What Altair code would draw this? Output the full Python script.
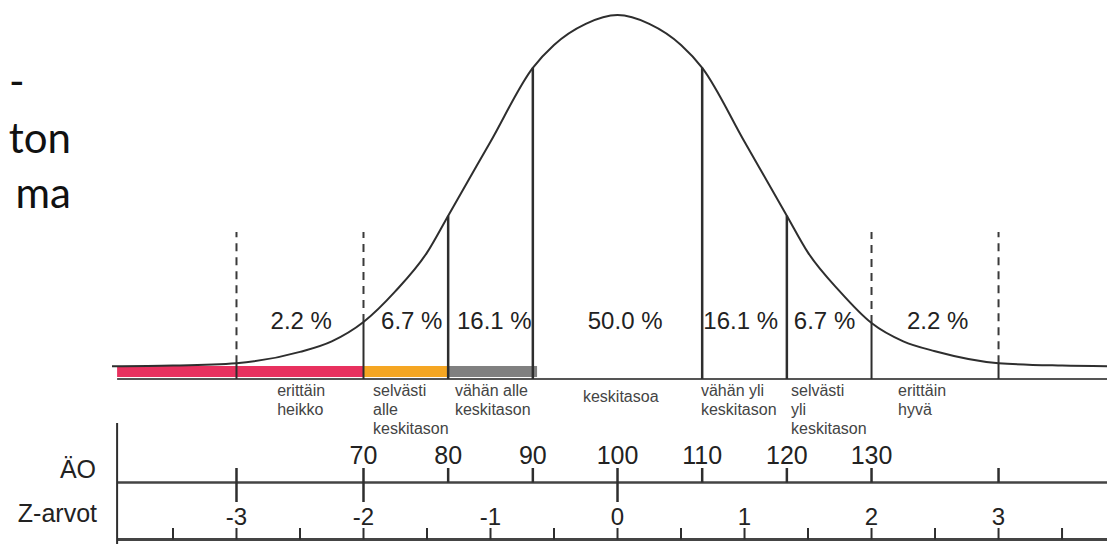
import altair as alt
import pandas as pd

# ---- data ----
# bell curve: z-value and height (percent of peak)
curve_z = [-3.98, -3.5, -3.0, -2.5, -2.25, -2.0, -1.75, -1.5, -1.333, -1.0, -0.667, -0.5, -0.25, 0.0,
           0.25, 0.5, 0.667, 1.0, 1.333, 1.5, 1.75, 2.0, 2.25, 2.5, 3.0, 3.5, 3.86]
curve_h = [0.2, 0.4, 1.1, 4.3, 7.3, 12.8, 21.5, 32.5, 43.0, 64.0, 85.0, 91.5, 97.5, 100.0,
           97.5, 91.5, 85.0, 64.0, 43.0, 32.5, 21.5, 12.5, 7.3, 4.5, 1.1, 0.4, 0.2]

# solid dividers (IQ) and curve height where they stop
solid_iq = [80, 90, 110, 120]
solid_h = [43.0, 85.0, 85.0, 43.0]

# dashed dividers (z) and curve height where dash ends
dashed_z = [-3, -2, 2, 3]
dashed_h = [1.1, 12.8, 12.5, 1.1]

# coloured bands (IQ start, IQ end, colour)
band_start = [40.9, 70, 80]
band_end = [70, 80, 90.5]
band_color = ["#E8315F", "#F5A623", "#808080"]

# percentage labels
pct_text = ["2.2 %", "6.7 %", "16.1 %", "50.0 %", "16.1 %", "6.7 %", "2.2 %"]
pct_z = [-2.49, -1.62, -0.97, 0.06, 0.97, 1.63, 2.52]

# category labels (left edge in z)
cat_text = ["erittäin\nheikko", "selvästi\nalle\nkeskitason", "vähän alle\nkeskitason",
            "vähän yli\nkeskitason", "selvästi\nyli\nkeskitason", "erittäin\nhyvä"]
cat_z = [-2.68, -1.925, -1.28, 0.657, 1.366, 2.209]
mid_text = ["keskitasoa"]
mid_z = [-0.272]

# IQ axis
iq_ticks_short = [80, 90, 110, 120, 130, 145]
iq_ticks_long = [55, 70, 100]
iq_labels = [70, 80, 90, 100, 110, 120, 130]

# Z axis
z_ticks = [-3.5, -3.0, -2.5, -2.0, -1.5, -1.0, -0.5, 0.0, 0.5, 1.0, 1.5, 2.0, 2.5, 3.0, 3.5]
z_labels = ["-3", "-2", "-1", "0", "1", "2", "3"]
z_label_vals = [-3, -2, -1, 0, 1, 2, 3]

axis_start_z = -3.94
axis_end_z = 3.86

title_lines = ["-", "ton", "ma"]

# ---- chart ----
W, H = 1099, 536
FONT = "Liberation Sans"
xs = alt.Scale(domain=[-4.799, 3.854], nice=False, zero=False)
# curve zero at plot y 359, peak (100) at plot y 7
ys = alt.Scale(domain=[-50.28, 101.99], nice=False, zero=False)


def X(field):
    return alt.X(field, type="quantitative", scale=xs, axis=None)


def Y(field):
    return alt.Y(field, type="quantitative", scale=ys, axis=None)


def iq_to_z(df, col):
    return df.assign(z=(df[col] - 100) / 15)


curve_df = pd.DataFrame({"z": curve_z, "h": curve_h})
solid_df = iq_to_z(pd.DataFrame({"iq": solid_iq, "h": solid_h}), "iq")
dashed_df = pd.DataFrame({"z": dashed_z, "h": dashed_h})
band_df = pd.DataFrame({"s": band_start, "e": band_end, "c": band_color})
band_df["zs"] = (band_df["s"] - 100) / 15
band_df["ze"] = (band_df["e"] - 100) / 15
pct_df = pd.DataFrame({"z": pct_z, "t": pct_text})
cat_df = pd.DataFrame({"z": cat_z, "t": cat_text})
mid_df = pd.DataFrame({"z": mid_z, "t": mid_text})
axis_df = pd.DataFrame({"a": [axis_start_z], "b": [axis_end_z]})
iqs_df = iq_to_z(pd.DataFrame({"iq": iq_ticks_short}), "iq")
iql_df = iq_to_z(pd.DataFrame({"iq": iq_ticks_long}), "iq")
iqlab_df = iq_to_z(pd.DataFrame({"iq": iq_labels}), "iq")
iqlab_df["t"] = iqlab_df["iq"].astype(str)
zt_df = pd.DataFrame({"z": z_ticks})
zl_df = pd.DataFrame({"z": z_label_vals, "t": z_labels})

line_col = "#2e2e2e"

bands = alt.Chart(band_df).mark_rect().encode(
    x=X("zs"), x2="ze", y=alt.value(358), y2=alt.value(369),
    color=alt.Color("c:N", scale=None))

baseline = alt.Chart(axis_df).mark_rule(color="#555555", strokeWidth=2).encode(
    x=X("a"), x2="b", y=alt.value(371))

curve = alt.Chart(curve_df).mark_line(color=line_col, strokeWidth=2, interpolate="monotone").encode(
    x=X("z"), y=Y("h"))

solid = alt.Chart(solid_df).mark_rule(color=line_col, strokeWidth=2.5).encode(
    x=X("z"), y=Y("h"), y2=alt.value(371))

dashed_top = alt.Chart(dashed_df).mark_rule(color="#3a3a3a", strokeWidth=2, strokeDash=[8, 6]).encode(
    x=X("z"), y=Y("h"), y2=alt.value(224))

dashed_bottom = alt.Chart(dashed_df).mark_rule(color=line_col, strokeWidth=2).encode(
    x=X("z"), y=Y("h"), y2=alt.value(371))

pct = alt.Chart(pct_df).mark_text(font=FONT, fontSize=24, color="#222222", baseline="middle").encode(
    x=X("z"), y=alt.value(314), text="t")

cats = alt.Chart(cat_df).mark_text(font=FONT, fontSize=16, color="#444444", align="left",
                                    baseline="top", lineBreak="\n", lineHeight=19).encode(
    x=X("z"), y=alt.value(375), text="t")

mid = alt.Chart(mid_df).mark_text(font=FONT, fontSize=16, color="#444444", align="left",
                                   baseline="top").encode(
    x=X("z"), y=alt.value(381), text="t")

iq_axis = alt.Chart(axis_df).mark_rule(color="#444444", strokeWidth=2.5).encode(
    x=X("a"), x2="b", y=alt.value(474.5))

z_axis = alt.Chart(axis_df).mark_rule(color="#444444", strokeWidth=3).encode(
    x=X("a"), x2="b", y=alt.value(531.5))

left_axis = alt.Chart(axis_df).mark_rule(color=line_col, strokeWidth=2).encode(
    x=X("a"), y=alt.value(415), y2=alt.value(536))

iq_short = alt.Chart(iqs_df).mark_rule(color=line_col, strokeWidth=2.5).encode(
    x=X("z"), y=alt.value(460), y2=alt.value(474.5))

iq_long = alt.Chart(iql_df).mark_rule(color=line_col, strokeWidth=2.5).encode(
    x=X("z"), y=alt.value(460), y2=alt.value(494))

iq_lab = alt.Chart(iqlab_df).mark_text(font=FONT, fontSize=25, color="#222222", baseline="alphabetic").encode(
    x=X("z"), y=alt.value(456), text="t")

z_tick = alt.Chart(zt_df).mark_rule(color=line_col, strokeWidth=2).encode(
    x=X("z"), y=alt.value(520), y2=alt.value(531.5))

z_lab = alt.Chart(zl_df).mark_text(font=FONT, fontSize=24, color="#222222", baseline="alphabetic").encode(
    x=X("z"), y=alt.value(517), text="t")

ao_name = alt.Chart(pd.DataFrame({"t": ["ÄO"]})).mark_text(
    font=FONT, fontSize=25, color="#222222", align="right", baseline="alphabetic").encode(
    x=alt.value(88), y=alt.value(470), text="t")
z_name = alt.Chart(pd.DataFrame({"t": ["Z-arvot"]})).mark_text(
    font=FONT, fontSize=25, color="#222222", align="right", baseline="alphabetic").encode(
    x=alt.value(89), y=alt.value(514), text="t")

title_dash = alt.Chart(pd.DataFrame({"t": [title_lines[0]]})).mark_text(
    font="Lato", fontSize=42, color="#111111", align="left", baseline="alphabetic").encode(
    x=alt.value(1), y=alt.value(88), text="t")
title_rest = []
for txt, yy in zip(title_lines[1:], [145, 200]):
    title_rest.append(
        alt.Chart(pd.DataFrame({"t": [txt]})).mark_text(
            font="Lato", fontSize=42, color="#111111", align="right", baseline="alphabetic").encode(
            x=alt.value(63), y=alt.value(yy), text="t"))

chart = alt.layer(
    bands, baseline, dashed_top, dashed_bottom, solid, curve, pct, cats, mid,
    iq_axis, z_axis, left_axis, iq_short, iq_long, iq_lab, z_tick, z_lab,
    ao_name, z_name, title_dash, *title_rest
).properties(
    width=W, height=H, padding=0,
    autosize=alt.AutoSizeParams(type="none")
).configure_view(stroke=None)

chart.save("out.html", embed_options={"renderer": "svg", "actions": False})
